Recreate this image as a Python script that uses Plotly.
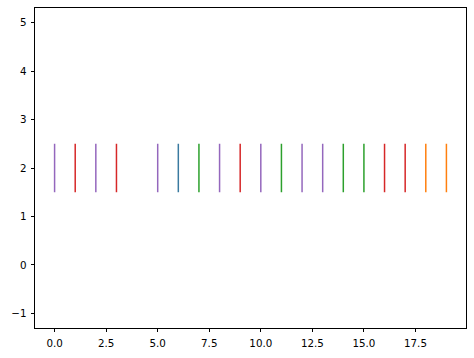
import plotly.graph_objects as go

positions = [0, 1, 2, 3, 5, 6, 7, 8, 9, 10, 11, 12, 13, 14, 15, 16, 17, 18, 19]
colors = ["#9467bd", "#d62728", "#9467bd", "#d62728", "#9467bd", "#3a7aa0", "#2ca02c",
          "#9467bd", "#d62728", "#9467bd", "#2ca02c", "#9467bd", "#9467bd", "#2ca02c",
          "#2ca02c", "#d62728", "#d62728", "#ff7f0e", "#ff7f0e"]
line_offset = 2.0
line_length = 1.0

fig = go.Figure()
for p, c in zip(positions, colors):
    fig.add_trace(go.Scatter(
        x=[p, p], y=[line_offset - line_length / 2, line_offset + line_length / 2],
        mode="lines", line=dict(color=c, width=1.5), showlegend=False, hoverinfo="skip"))

axis_common = dict(showline=True, linecolor="black", linewidth=0.8, mirror=True,
                   ticks="outside", ticklen=3.5, tickwidth=0.8, tickcolor="black",
                   showgrid=False, zeroline=False, ticklabelstandoff=2,
                   tickfont=dict(family="DejaVu Sans", size=10.3, color="black"))

fig.update_layout(
    width=474, height=358,
    margin=dict(l=35, r=8, t=8, b=30),
    plot_bgcolor="white", paper_bgcolor="white",
    xaxis=dict(range=[-0.95, 19.95], tickvals=[0, 2.5, 5, 7.5, 10, 12.5, 15, 17.5],
               ticktext=["0.0", "2.5", "5.0", "7.5", "10.0", "12.5", "15.0", "17.5"], **axis_common),
    yaxis=dict(range=[-1.3, 5.3], tickvals=[-1, 0, 1, 2, 3, 4, 5],
               ticktext=["\u22121", "0", "1", "2", "3", "4", "5"], **axis_common),
)

fig.write_html("out.html")
